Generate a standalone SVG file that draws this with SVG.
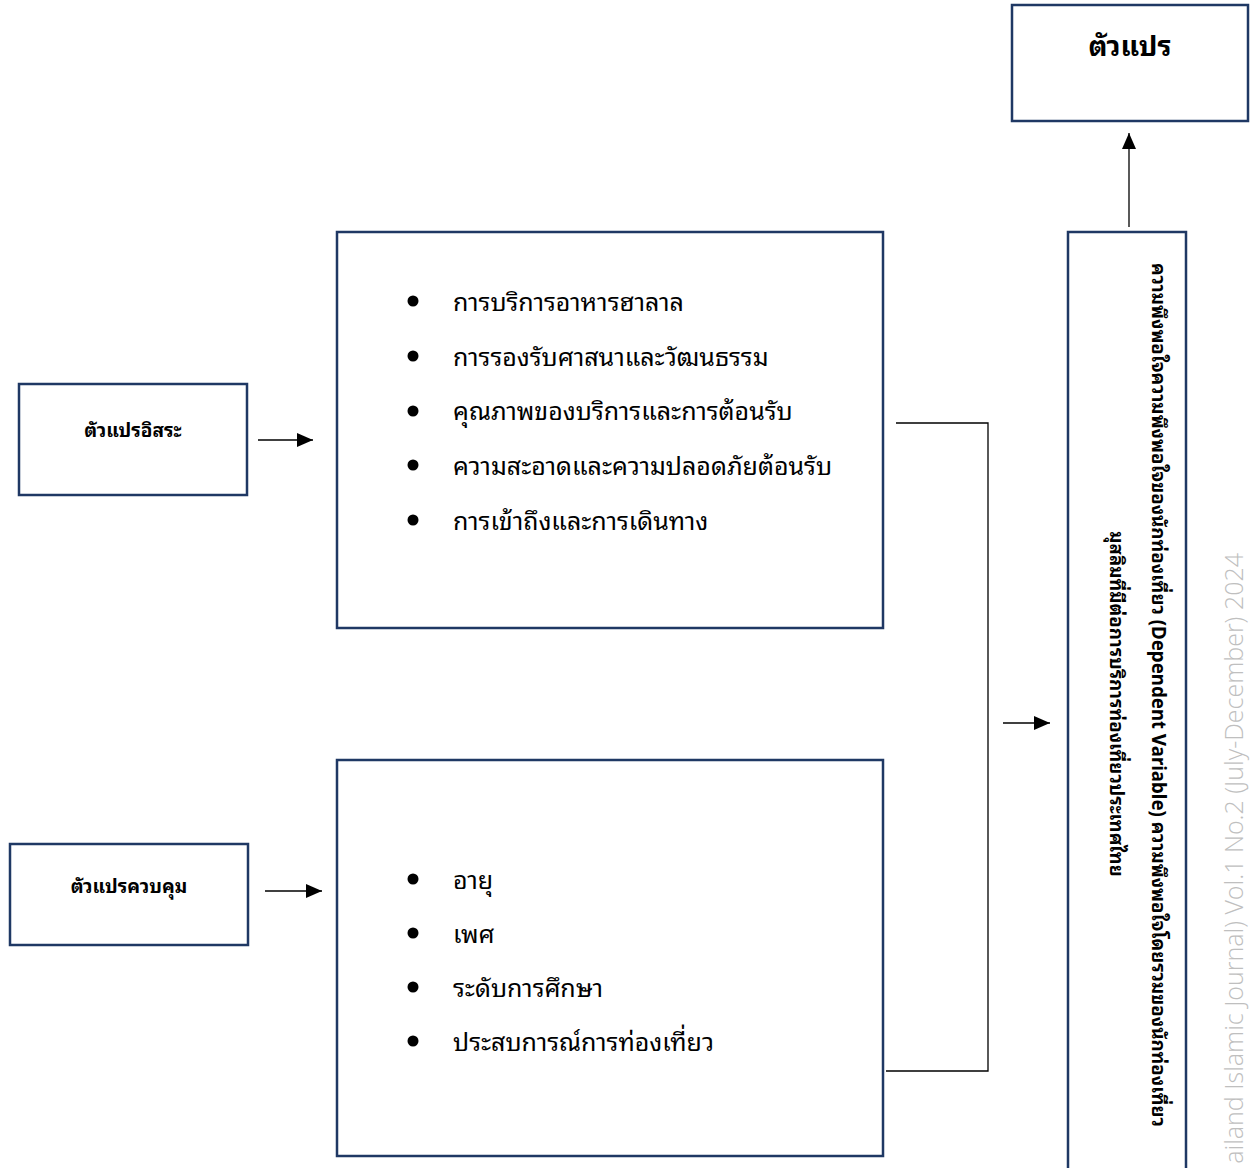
<svg xmlns="http://www.w3.org/2000/svg" width="1256" height="1168" viewBox="0 0 1256 1168">
  <style>
    .box { fill: #ffffff; stroke: #1f3864; stroke-width: 2.5; }
    .conn { fill: none; stroke: #000000; stroke-width: 1.3; }
    .th { font-family: "Noto Sans Thai Looped", "Loma", "Garuda", "Tahoma", "Noto Sans Thai", "Noto Sans", "Liberation Sans", sans-serif; fill: #000000; }
    .item { font-size: 25px; }
    .lbl { font-size: 19px; font-weight: bold; text-anchor: middle; }
    .title { font-size: 28px; font-weight: bold; text-anchor: middle; }
    .vert { font-size: 18.7px; font-weight: bold; text-anchor: middle; }
    .bullet { fill: #000000; }
    .wm { font-family: "Open Sans", "Liberation Sans", sans-serif; font-weight: 300; font-size: 25px; fill: #bfbfbf; text-anchor: end; }
  </style>
  <defs>
    <marker id="arrow" viewBox="0 0 16 14" refX="16" refY="7" markerWidth="16" markerHeight="14" markerUnits="userSpaceOnUse" orient="auto">
      <path d="M0,0 L16,7 L0,14 z" fill="#000000"/>
    </marker>
  </defs>
  <rect width="1256" height="1168" fill="#ffffff"/>

  <g id="watermark">
    <text class="wm" transform="translate(1243,553) rotate(-90)" x="0" y="0">ailand Islamic Journal) Vol.1 No.2 (July-December) 2024</text>
  </g>

  <g id="connectors">
    <line class="conn" x1="258" y1="440" x2="313" y2="440" marker-end="url(#arrow)"/>
    <line class="conn" x1="265" y1="891" x2="322" y2="891" marker-end="url(#arrow)"/>
    <polyline class="conn" points="896,423 988,423 988,1071 886,1071"/>
    <line class="conn" x1="1003" y1="723" x2="1050" y2="723" marker-end="url(#arrow)"/>
    <line class="conn" x1="1129" y1="227" x2="1129" y2="133" marker-end="url(#arrow)"/>
  </g>

  <g id="node-variable">
    <rect class="box" x="1012" y="5" width="236" height="116"/>
    <text class="th title" x="1130" y="56">ตัวแปร</text>
  </g>

  <g id="node-independent">
    <rect class="box" x="19" y="384" width="228" height="111"/>
    <text class="th lbl" x="133" y="437">ตัวแปรอิสระ</text>
  </g>

  <g id="node-control">
    <rect class="box" x="10" y="844" width="238" height="101"/>
    <text class="th lbl" x="129" y="893">ตัวแปรควบคุม</text>
  </g>

  <g id="node-independent-items">
    <rect class="box" x="337" y="232" width="546" height="396"/>
    <circle class="bullet" cx="413" cy="301" r="5.5"/>
    <circle class="bullet" cx="413" cy="356" r="5.5"/>
    <circle class="bullet" cx="413" cy="411" r="5.5"/>
    <circle class="bullet" cx="413" cy="465" r="5.5"/>
    <circle class="bullet" cx="413" cy="520" r="5.5"/>
    <text class="th item" x="453" y="311">การบริการอาหารฮาลาล</text>
    <text class="th item" x="453" y="366">การรองรับศาสนาและวัฒนธรรม</text>
    <text class="th item" x="453" y="420">คุณภาพของบริการและการต้อนรับ</text>
    <text class="th item" x="453" y="475">ความสะอาดและความปลอดภัยต้อนรับ</text>
    <text class="th item" x="453" y="530">การเข้าถึงและการเดินทาง</text>
  </g>

  <g id="node-control-items">
    <rect class="box" x="337" y="760" width="546" height="396"/>
    <circle class="bullet" cx="413" cy="879" r="5.5"/>
    <circle class="bullet" cx="413" cy="933" r="5.5"/>
    <circle class="bullet" cx="413" cy="987" r="5.5"/>
    <circle class="bullet" cx="413" cy="1041" r="5.5"/>
    <text class="th item" x="453" y="889">อายุ</text>
    <text class="th item" x="453" y="943">เพศ</text>
    <text class="th item" x="453" y="997">ระดับการศึกษา</text>
    <text class="th item" x="453" y="1051">ประสบการณ์การท่องเที่ยว</text>
  </g>

  <g id="node-dependent">
    <rect class="box" x="1068" y="232" width="118" height="960"/>
    <text class="th vert" transform="translate(1152,695) rotate(90)">ความพึงพอใจความพึงพอใจของนักท่องเที่ยว (Dependent Variable) ความพึงพอใจโดยรวมของนักท่องเที่ยว</text>
    <text class="th vert" transform="translate(1110,704) rotate(90)">มุสลิมที่มีต่อการบริการท่องเที่ยวประเทศไทย</text>
  </g>
</svg>
